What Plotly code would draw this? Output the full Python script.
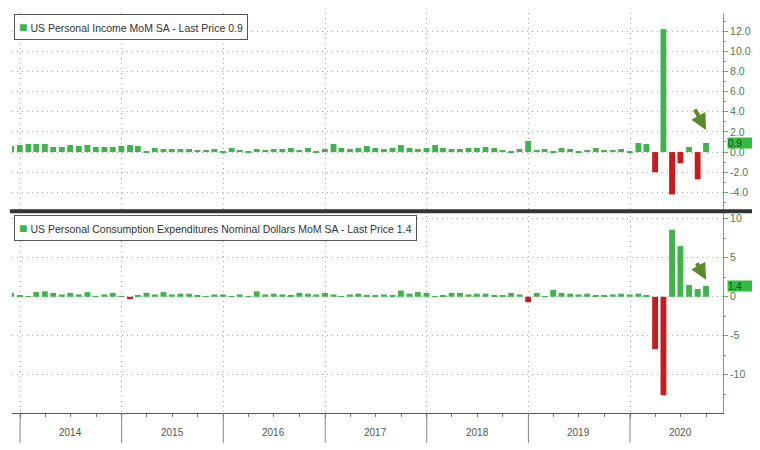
import pandas as pd
import plotly.graph_objects as go
from plotly.subplots import make_subplots

# ---- data (monthly, month-end dates, Nov 2013 .. Sep 2020) ----
start_month = "2013-11-30"
income = [0.6, 0.7,
          0.8, 0.8, 0.8, 0.5, 0.5, 0.7, 0.6, 0.7, 0.5, 0.5, 0.5, 0.6,
          0.7, 0.6, 0.1, 0.4, 0.3, 0.3, 0.3, 0.3, 0.2, 0.2, 0.3, 0.1,
          0.4, 0.2, 0.1, 0.3, 0.2, 0.3, 0.3, 0.4, 0.2, 0.4, 0.1, 0.3,
          0.8, 0.4, 0.3, 0.4, 0.6, 0.4, 0.3, 0.4, 0.7, 0.4, 0.3, 0.4,
          0.7, 0.4, 0.3, 0.3, 0.4, 0.4, 0.5, 0.4, 0.2, 0.1, 0.3, 1.1,
          0.2, 0.3, 0.1, 0.4, 0.3, 0.1, 0.2, 0.4, 0.2, 0.2, 0.3, 0.1,
          0.9, 0.8, -2.0, 12.2, -4.2, -1.1, 0.5, -2.7, 0.9]
pce = [0.5, 0.2,
       0.1, 0.6, 0.7, 0.5, 0.3, 0.5, 0.3, 0.6, 0.1, 0.3, 0.5, 0.1,
       -0.3, 0.2, 0.5, 0.3, 0.6, 0.3, 0.4, 0.4, 0.2, 0.1, 0.3, 0.3,
       0.1, 0.3, 0.1, 0.7, 0.3, 0.4, 0.3, 0.2, 0.5, 0.4, 0.3, 0.5,
       0.3, 0.1, 0.3, 0.4, 0.2, 0.2, 0.3, 0.2, 0.8, 0.4, 0.6, 0.5,
       0.1, 0.2, 0.5, 0.5, 0.3, 0.4, 0.4, 0.2, 0.2, 0.5, 0.3, -0.7,
       0.5, 0.1, 0.9, 0.5, 0.4, 0.3, 0.4, 0.2, 0.2, 0.3, 0.4, 0.3,
       0.4, 0.2, -6.7, -12.6, 8.6, 6.5, 1.5, 1.0, 1.4]
years = [2014, 2015, 2016, 2017, 2018, 2019, 2020]
top_ticks = [-4, -2, 0, 2, 4, 6, 8, 10, 12]
bot_ticks = [-10, -5, 0, 5, 10]
title_top = "US Personal Income MoM SA - Last Price 0.9"
title_bot = "US Personal Consumption Expenditures Nominal Dollars MoM SA - Last Price 1.4"

dates = pd.date_range(start=start_month, periods=len(income), freq="ME")

GREEN = "#3db54a"
RED = "#cc1a1a"
AXG = "#5cb85c"
LBL = "#4f7a4f"
GRID = "#a8a8a8"
DOT = "1px,4px"

fig = make_subplots(rows=2, cols=1, shared_xaxes=True, vertical_spacing=0.0,
                    row_heights=[0.495, 0.505])

bar_w = 0.7 * 30 * 24 * 3600 * 1000
fig.add_trace(go.Bar(x=dates, y=income, width=bar_w,
                     marker=dict(color=[GREEN if v >= 0 else RED for v in income], line_width=0),
                     showlegend=False), row=1, col=1)
fig.add_trace(go.Bar(x=dates, y=pce, width=bar_w,
                     marker=dict(color=[GREEN if v >= 0 else RED for v in pce], line_width=0),
                     showlegend=False), row=2, col=1)

xr = ["2013-12-03", "2020-11-30"]
for r in (1, 2):
    fig.update_xaxes(type="date", range=xr, row=r, col=1,
                     tickvals=[f"{y}-01-01" for y in years], showticklabels=False,
                     showgrid=True, gridcolor=GRID, griddash=DOT, gridwidth=1,
                     zeroline=False, showline=False)
fig.update_xaxes(row=2, col=1, showline=True, linecolor="#555", linewidth=1,
                 ticks="outside", ticklen=4, tickcolor="#555",
                 minor=dict(dtick="M3", tick0="2014-01-01", ticks="outside", ticklen=3, tickcolor="#777"))

fig.update_yaxes(row=1, col=1, side="right", range=[-5.85, 13.8],
                 tickvals=top_ticks, ticktext=[f"{v:.1f}" for v in top_ticks],
                 showgrid=True, gridcolor=GRID, griddash=DOT,
                 zeroline=False, showline=True, linecolor=AXG, linewidth=1,
                 ticks="outside", ticklen=4, tickcolor=AXG,
                 minor=dict(dtick=1, ticks="outside", ticklen=2, tickcolor=AXG),
                 tickfont=dict(color=LBL, size=10.5, family="Liberation Sans"))
fig.update_yaxes(row=2, col=1, side="right", range=[-14.9, 11.0],
                 tickvals=bot_ticks, ticktext=[str(v) for v in bot_ticks],
                 showgrid=True, gridcolor=GRID, griddash=DOT,
                 zeroline=False, showline=True, linecolor=AXG, linewidth=1,
                 ticks="outside", ticklen=4, tickcolor=AXG,
                 minor=dict(dtick=2.5, ticks="outside", ticklen=2, tickcolor=AXG),
                 tickfont=dict(color=LBL, size=10.5, family="Liberation Sans"))

shapes = []
annotations = []
# year separators & labels under the x axis
for y in years:
    shapes.append(dict(type="line", xref="x2", yref="paper", x0=f"{y}-01-01", x1=f"{y}-01-01",
                       y0=0, y1=-0.075, line=dict(color="#888", width=1)))
    annotations.append(dict(xref="x2", yref="paper", x=f"{y}-07-01", y=-0.0475,
                            text=str(y), showarrow=False, yanchor="middle",
                            font=dict(size=10, color="#555", family="Liberation Sans")))
# panel separator
shapes.append(dict(type="line", xref="paper", yref="paper", x0=-0.003, x1=1.041,
                   y0=0.5045, y1=0.5045, line=dict(color="#333", width=4)))

# panel titles (legend boxes)
for txt, yp in ((title_top, 1.0), (title_bot, 0.4975)):
    annotations.append(dict(xref="paper", yref="paper", x=0.003, y=yp, xanchor="left", yanchor="top",
                            yshift=-1,
                            text=f"<span style='color:{GREEN};font-size:14px'>■</span> {txt}",
                            showarrow=False, bgcolor="white", bordercolor="#555", borderwidth=1,
                            borderpad=4, font=dict(size=10.5, color="#333", family="Liberation Sans")))

# last price tags
for yref, val in (("y", income[-1]), ("y2", pce[-1])):
    annotations.append(dict(xref="paper", yref=yref, x=1.0, y=val, xanchor="left", yanchor="middle",
                            xshift=4, text=f"{val:.1f}", showarrow=False, bgcolor="#2fbf3f",
                            width=24, height=10, borderpad=0, align="left",
                            font=dict(size=10, color="#1f3f1f", family="Liberation Sans")))

# arrows pointing at the last bar
annotations.append(dict(xref="x", yref="y", x=dates[-1], y=income[-1] + 1.3, ax=-12, ay=-22,
                        showarrow=True, arrowhead=2, arrowsize=0.8, arrowwidth=4,
                        arrowcolor="#5a8a2a", text=""))
annotations.append(dict(xref="x2", yref="y2", x=dates[-1], y=pce[-1] + 0.8, ax=-10, ay=-18,
                        showarrow=True, arrowhead=2, arrowsize=0.8, arrowwidth=4,
                        arrowcolor="#5a8a2a", text=""))

# the page body adds an 8px offset; the figure is sized to compensate
fig.update_layout(width=752, height=442, margin=dict(l=4, r=37, t=5, b=37),
                  paper_bgcolor="white", plot_bgcolor="white",
                  bargap=0.3, shapes=shapes, annotations=annotations,
                  font=dict(family="Liberation Sans"))

fig.write_html("out.html")
